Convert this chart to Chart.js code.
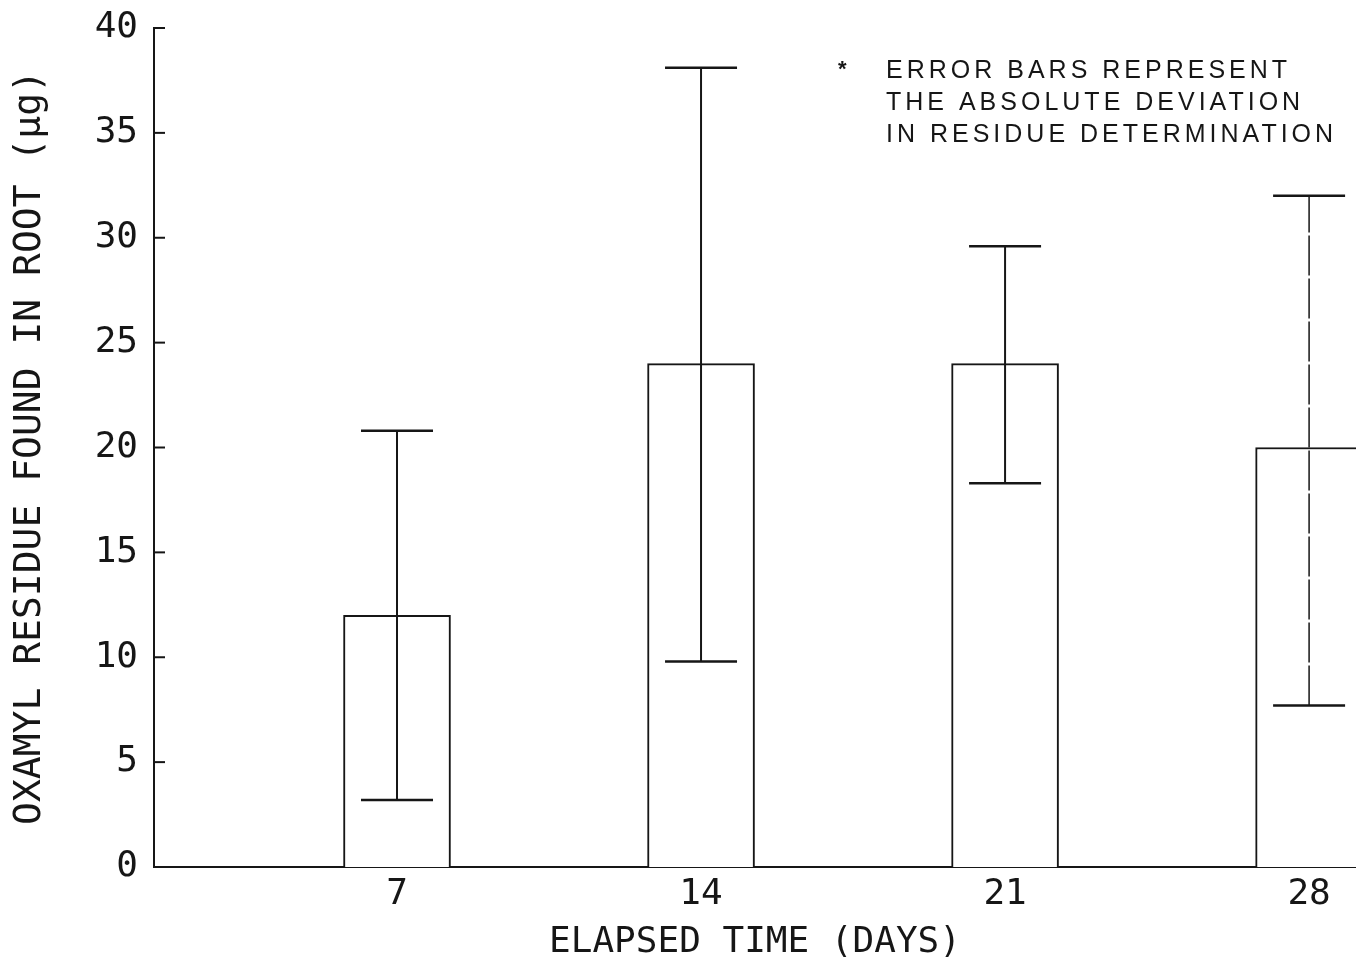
<!DOCTYPE html>
<html><head><meta charset="utf-8">
<script src="https://cdn.jsdelivr.net/npm/chart.js@4"></script>
<style>html,body{margin:0;padding:0;background:#fff;} canvas{display:block;}</style>
</head><body>
<canvas id="c" width="1356" height="961"></canvas>
<script>
const days = [7, 14, 21, 28];
const residue = [12, 24, 24, 20];
const errLow = [3.2, 9.8, 18.3, 7.7];
const errHigh = [20.8, 38.1, 29.6, 32.0];
const yTickValues = [0, 5, 10, 15, 20, 25, 30, 35, 40];
const dashedErr = [false, false, false, true];
const xTitle = 'ELAPSED TIME (DAYS)';
const yTitle = 'OXAMYL RESIDUE FOUND IN ROOT (\u03bcg)';
const noteLines = ['ERROR BARS REPRESENT', 'THE ABSOLUTE DEVIATION', 'IN RESIDUE DETERMINATION'];

const INK = '#161616';
const MONO = "'DejaVu Sans Mono', monospace";
const SANS = "'Liberation Sans', Arial, sans-serif";

const errorBars = {
  id: 'errorBars',
  afterDatasetsDraw(chart) {
    const {ctx, scales: {x, y}} = chart;
    ctx.save();
    ctx.strokeStyle = INK;
    days.forEach((d, i) => {
      const px = x.getPixelForValue(d);
      const lo = y.getPixelForValue(errLow[i]);
      const hi = y.getPixelForValue(errHigh[i]);
      const half = 36;
      ctx.lineWidth = dashedErr[i] ? 1.5 : 2;
      ctx.setLineDash(dashedErr[i] ? [40, 3] : []);
      ctx.beginPath(); ctx.moveTo(px, lo); ctx.lineTo(px, hi); ctx.stroke();
      ctx.setLineDash([]);
      ctx.lineWidth = 2.5;
      ctx.beginPath();
      ctx.moveTo(px - half, lo); ctx.lineTo(px + half, lo);
      ctx.moveTo(px - half, hi); ctx.lineTo(px + half, hi);
      ctx.stroke();
    });
    ctx.restore();
  }
};

const innerTicks = {
  id: 'innerTicks',
  afterDraw(chart) {
    const {ctx, scales: {y}} = chart;
    ctx.save();
    ctx.strokeStyle = INK;
    ctx.lineWidth = 2;
    yTickValues.forEach(v => {
      const py = y.getPixelForValue(v);
      ctx.beginPath(); ctx.moveTo(y.right, py); ctx.lineTo(y.right + 11, py); ctx.stroke();
    });
    ctx.restore();
  }
};

const note = {
  id: 'note',
  afterDraw(chart) {
    const {ctx, chartArea} = chart;
    ctx.save();
    ctx.fillStyle = INK;
    ctx.textAlign = 'left';
    ctx.textBaseline = 'alphabetic';
    ctx.font = 'bold 22px ' + SANS;
    ctx.fillText('*', chartArea.left + 684, chartArea.top + 48);
    ctx.font = '25px ' + SANS;
    ctx.letterSpacing = '4px';
    noteLines.forEach((t, i) => {
      ctx.fillText(t, chartArea.left + 732, chartArea.top + 50 + i * 32);
    });
    ctx.restore();
  }
};

Chart.defaults.font.family = MONO;
Chart.defaults.color = INK;

new Chart(document.getElementById('c'), {
  type: 'bar',
  data: {
    datasets: [{
      data: days.map((d, i) => ({x: d, y: residue[i]})),
      backgroundColor: '#fff',
      borderColor: INK,
      borderWidth: 2,
      barThickness: 107,
      borderSkipped: 'start'
    }]
  },
  options: {
    responsive: false,
    animation: false,
    layout: {padding: {top: 28, right: 0, left: 0, bottom: 0}},
    plugins: {legend: {display: false}, tooltip: {enabled: false}},
    scales: {
      x: {
        type: 'linear',
        min: 1.405,
        max: 29.08,
        offset: false,
        grid: {display: false, drawTicks: false},
        border: {display: true, color: INK, width: 2},
        ticks: {font: {size: 36}, color: INK, padding: 6, maxRotation: 0, autoSkip: false},
        afterBuildTicks: s => { s.ticks = days.map(v => ({value: v})); },
        title: {display: true, text: xTitle, color: INK, font: {size: 36, lineHeight: 1}, padding: 0},
        afterFit: s => { s.height = 94; s.paddingLeft = 0; s.paddingRight = 0; }
      },
      y: {
        type: 'linear',
        min: 0,
        max: 40,
        grid: {display: false, drawTicks: false},
        border: {display: true, color: INK, width: 2},
        ticks: {font: {size: 36}, color: INK, padding: 16},
        afterBuildTicks: s => { s.ticks = yTickValues.map(v => ({value: v})); },
        title: {display: true, text: yTitle, color: INK, font: {size: 38, lineHeight: 1}, padding: {top: 11, bottom: 0}},
        afterFit: s => { s.width = 154; s.paddingTop = 0; s.paddingBottom = 0; }
      }
    }
  },
  plugins: [errorBars, innerTicks, note]
});
</script>
</body></html>
